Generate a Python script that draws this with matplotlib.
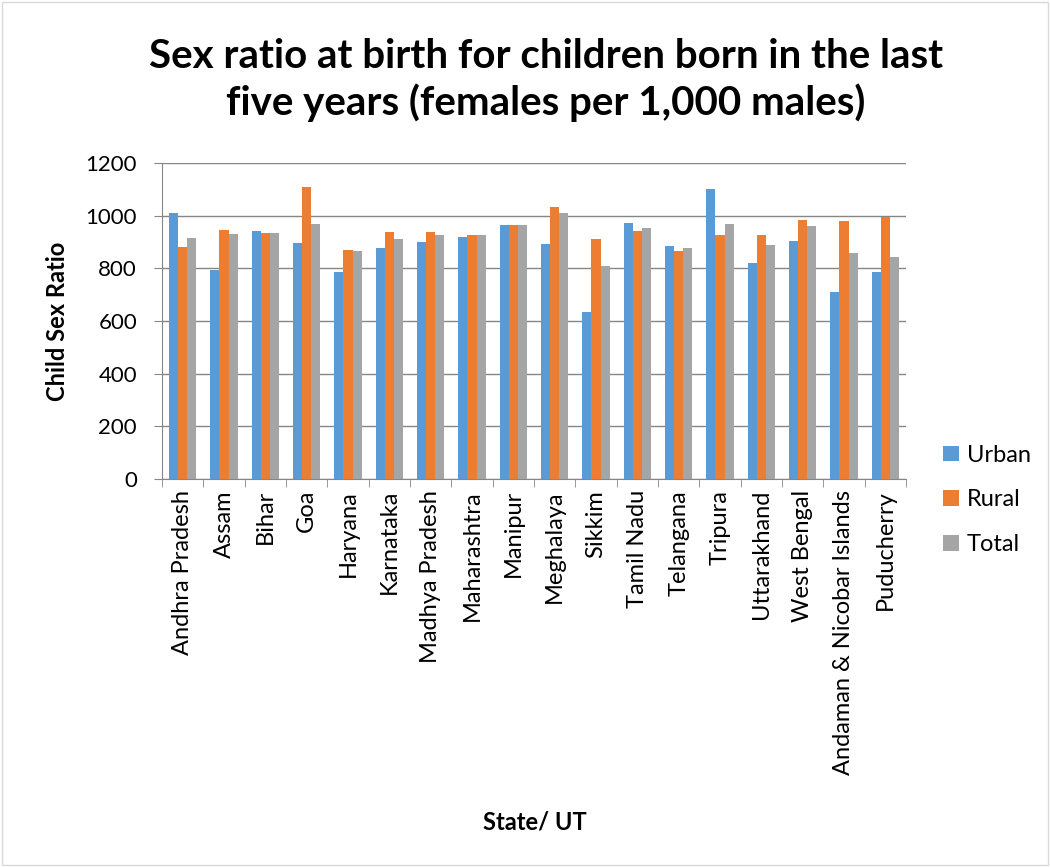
import numpy as np
import matplotlib.pyplot as plt
from matplotlib.patches import Rectangle

plt.rcParams['font.family'] = ['Lato', 'DejaVu Sans']

states = ['Andhra Pradesh', 'Assam', 'Bihar', 'Goa', 'Haryana', 'Karnataka',
          'Madhya Pradesh', 'Maharashtra', 'Manipur', 'Meghalaya', 'Sikkim',
          'Tamil Nadu', 'Telangana', 'Tripura', 'Uttarakhand', 'West Bengal',
          'Andaman & Nicobar Islands', 'Puducherry']
urban = [1010, 794, 942, 896, 786, 877, 900, 919, 965, 892, 634, 972, 885,
         1101, 820, 904, 710, 786]
rural = [881, 946, 934, 1109, 870, 938, 938, 927, 965, 1033, 911, 942, 866,
         927, 927, 984, 980, 995]
total = [915, 930, 934, 968, 866, 911, 927, 927, 965, 1010, 809, 953, 877,
         968, 889, 961, 858, 843]

colors = ['#5B9BD5', '#ED7D31', '#A5A5A5']

fig = plt.figure(figsize=(10.5, 8.67), dpi=100)
fig.patches.append(Rectangle((0.002, 0.002), 0.996, 0.996, transform=fig.transFigure,
                             fill=False, edgecolor='#D9D9D9', lw=1))
ax = fig.add_axes([162 / 1050, 1 - 479 / 867, 744 / 1050, 316 / 867])

x = np.arange(len(states))
w = 0.22
for i, (vals, lab) in enumerate(zip([urban, rural, total], ['Urban', 'Rural', 'Total'])):
    ax.bar(x + (i - 1) * w, vals, w, color=colors[i], label=lab, zorder=3)

ax.set_xlim(-0.5, len(states) - 0.5)
ax.set_ylim(0, 1200)
ax.set_yticks(range(0, 1201, 200))
ax.set_xticks(x)
ax.set_xticklabels(states, rotation=90, fontsize=17)
ax.tick_params(axis='x', length=0, pad=8)
ax.set_xticks(np.arange(-0.5, len(states)), minor=True)
ax.tick_params(axis='x', which='minor', length=6, color='#868686')
ax.tick_params(axis='y', labelsize=16, length=6, color='#868686', pad=12)
ax.grid(axis='y', color='#868686', lw=1, zorder=0)
for s in ['top', 'right']:
    ax.spines[s].set_visible(False)
for s in ['left', 'bottom']:
    ax.spines[s].set_color('#868686')

ax.set_ylabel('Child Sex Ratio', fontsize=17, fontweight='bold', labelpad=12)
fig.text(535 / 1050, 1 - 822 / 867, 'State/ UT', fontsize=17, fontweight='bold',
         ha='center', va='center')
fig.text(546 / 1050, 1 - 80 / 867,
         'Sex ratio at birth for children born in the last\nfive years (females per 1,000 males)',
         fontsize=29, fontweight='bold', ha='center', va='center', linespacing=1.25)

ax.legend(loc='center left', bbox_to_anchor=(1.05, -0.066), frameon=False,
          fontsize=17, handlelength=0.65, handleheight=0.65, labelspacing=1.0,
          handletextpad=0.35, borderaxespad=0, borderpad=0)

fig.savefig('out.png', dpi=100)
